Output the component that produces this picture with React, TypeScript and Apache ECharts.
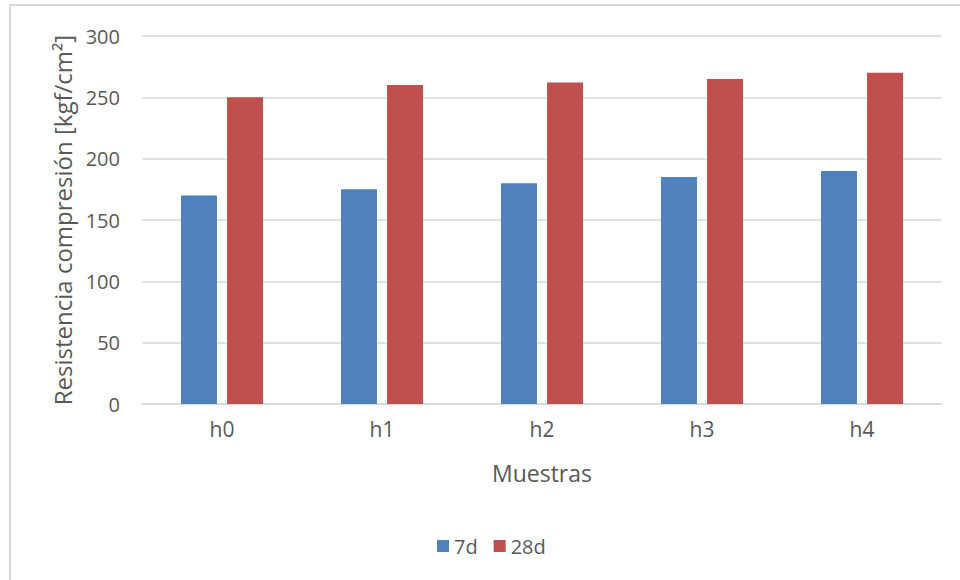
import React, { useEffect, useRef } from "react";
import * as echarts from "echarts";

const categories = ["h0", "h1", "h2", "h3", "h4"];
const series7d = [170, 175, 180, 185, 190];
const series28d = [250, 260, 262, 265, 270];
const seriesNames = ["7d", "28d"];

export default function App() {
  const ref = useRef<HTMLDivElement>(null);
  useEffect(() => {
    if (!ref.current) return;
    const chart = echarts.init(ref.current, null, { renderer: "svg" });
    const font = "Open Sans";
    const textColor = "#595959";
    chart.setOption({
      animation: false,
      backgroundColor: "#ffffff",
      textStyle: { fontFamily: font },
      graphic: [
        {
          type: "rect",
          shape: { x: 10, y: 5, width: 1200, height: 1200 },
          style: { fill: "none", stroke: "#d9d9d9", lineWidth: 2 },
          silent: true,
        },
      ],
      grid: { left: 142, right: 18, top: 36, bottom: 176, containLabel: false, outerBoundsMode: "none" },
      legend: {
        data: seriesNames,
        left: 432,
        top: 531,
        itemWidth: 12,
        itemHeight: 12,
        itemGap: 16,
        icon: "rect",
        textStyle: { color: textColor, fontSize: 20, fontFamily: font },
      },
      xAxis: {
        type: "category",
        data: categories,
        name: "Muestras",
        nameLocation: "middle",
        nameGap: 57,
        nameTextStyle: { color: textColor, fontSize: 23, fontFamily: font },
        axisLine: { lineStyle: { color: "#d9d9d9", width: 1.5 } },
        axisTick: { show: false },
        axisLabel: { color: textColor, fontSize: 21, margin: 14, fontFamily: font },
      },
      yAxis: {
        type: "value",
        min: 0,
        max: 300,
        interval: 50,
        name: "Resistencia compresión [kgf/cm²]",
        nameLocation: "middle",
        nameGap: 67,
        nameRotate: 90,
        nameTextStyle: { color: textColor, fontSize: 24, fontFamily: font },
        axisLine: { show: false },
        axisTick: { show: false },
        axisLabel: { color: textColor, fontSize: 20, margin: 22, fontFamily: font },
        splitLine: { lineStyle: { color: "#d9d9d9", width: 1.5 } },
      },
      series: [
        {
          name: seriesNames[0],
          type: "bar",
          data: series7d,
          barWidth: "22.5%",
          barGap: "28%",
          itemStyle: { color: "#4f81bd" },
        },
        {
          name: seriesNames[1],
          type: "bar",
          data: series28d,
          barWidth: "22.5%",
          barGap: "28%",
          itemStyle: { color: "#c0504d" },
        },
      ],
    });
    return () => chart.dispose();
  }, []);
  return (
    <div
      ref={ref}
      style={{ position: "fixed", left: 0, top: 0, width: 960, height: 580 }}
    />
  );
}
